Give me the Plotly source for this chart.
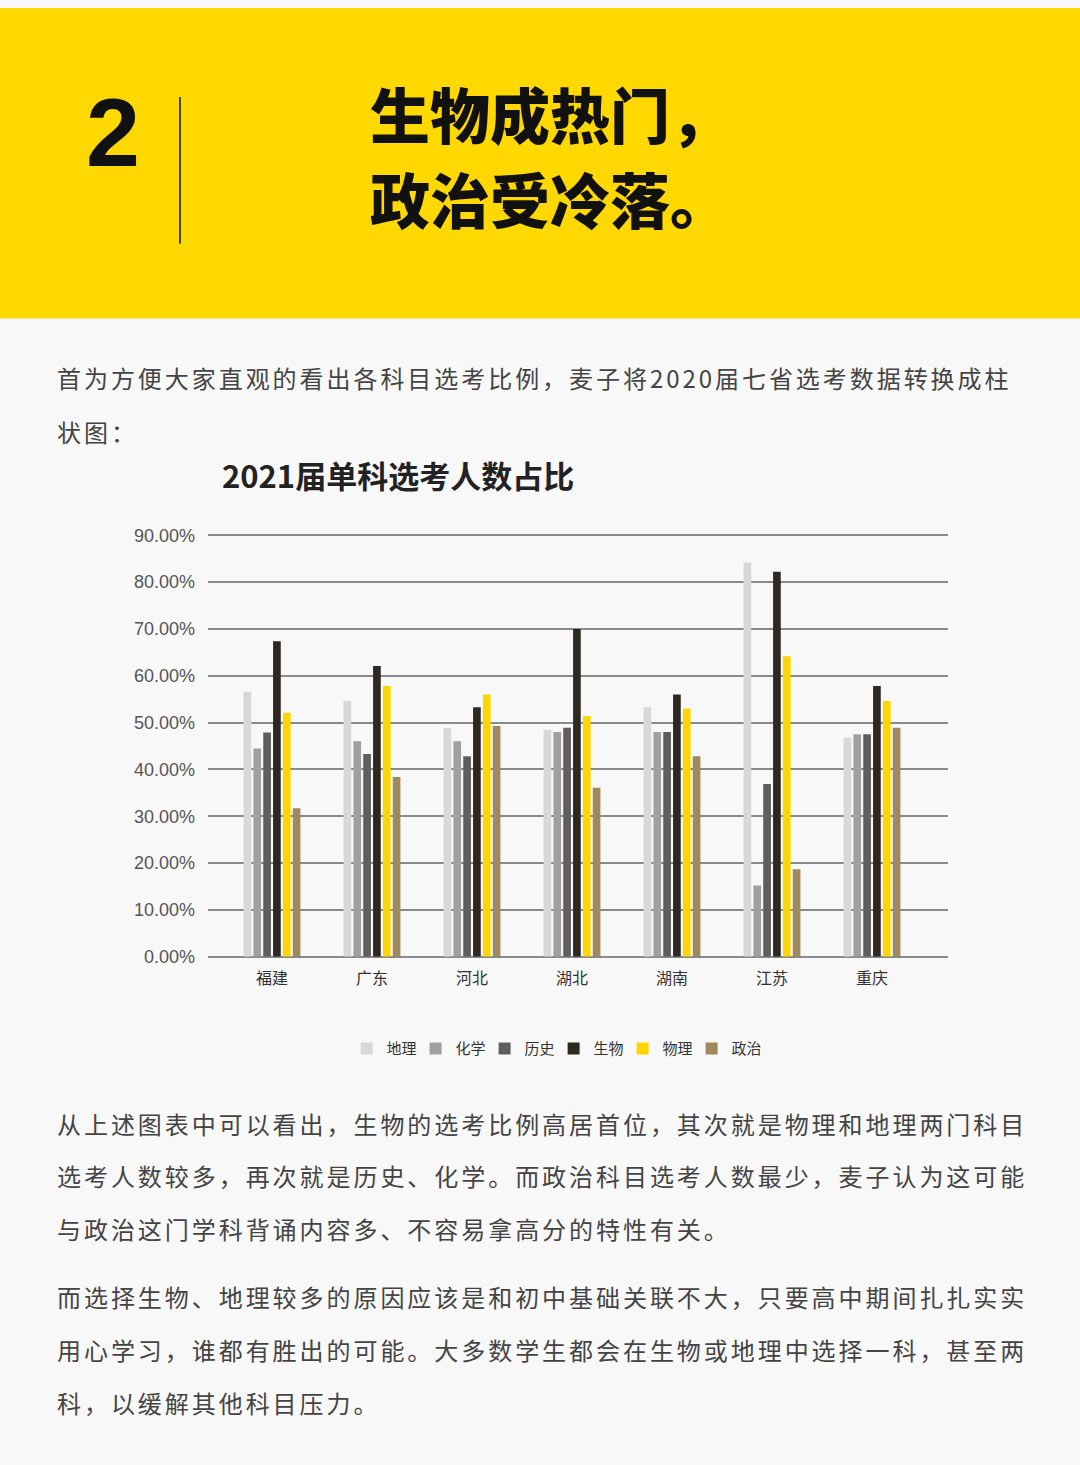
import plotly.graph_objects as go

provinces = ["福建", "广东", "河北", "湖北", "湖南", "江苏", "重庆"]
subjects = ["地理", "化学", "历史", "生物", "物理", "政治"]
colors = ["#D8D8D8", "#A0A0A0", "#5E5E5E", "#2D2920", "#FFD500", "#9E8A5E"]

geo = [0.566, 0.546, 0.489, 0.485, 0.533, 0.842, 0.468]
chem = [0.445, 0.460, 0.460, 0.480, 0.480, 0.152, 0.475]
hist = [0.479, 0.433, 0.428, 0.489, 0.480, 0.369, 0.475]
bio = [0.674, 0.621, 0.533, 0.700, 0.560, 0.822, 0.578]
phys = [0.521, 0.578, 0.560, 0.514, 0.530, 0.642, 0.546]
poli = [0.317, 0.384, 0.493, 0.361, 0.428, 0.187, 0.489]
series = [geo, chem, hist, bio, phys, poli]

title_lines = ["生物成热门，", "政治受冷落。"]
chart_title = "2021届单科选考人数占比"
intro_lines = ["首为方便大家直观的看出各科目选考比例，麦子将2020届七省选考数据转换成柱", "状图："]
para1 = ["从上述图表中可以看出，生物的选考比例高居首位，其次就是物理和地理两门科目",
         "选考人数较多，再次就是历史、化学。而政治科目选考人数最少，麦子认为这可能",
         "与政治这门学科背诵内容多、不容易拿高分的特性有关。"]
para2 = ["而选择生物、地理较多的原因应该是和初中基础关联不大，只要高中期间扎扎实实",
         "用心学习，谁都有胜出的可能。大多数学生都会在生物或地理中选择一科，甚至两",
         "科，以缓解其他科目压力。"]

W, H = 1080, 1465
CJK = "Noto Sans CJK SC"


def py(y):
    # target pixel row (from top) -> paper fraction, compensating the capture's vertical mapping
    yy = (y - 7) / 0.989
    return min(1.0, max(0.0, 1 - yy / H))


fig = go.Figure()
for name, vals, c in zip(subjects, series, colors):
    fig.add_trace(go.Bar(x=provinces, y=vals, name=name, marker=dict(color=c, line=dict(width=0))))

shapes = [
    dict(type="rect", xref="paper", yref="paper", x0=0, x1=1, y0=py(318), y1=1,
         fillcolor="#FFD800", line=dict(width=0), layer="below"),
    dict(type="line", xref="paper", yref="paper", x0=180 / W, x1=180 / W, y0=py(96), y1=py(243),
         line=dict(color="#111111", width=1.5)),
]

ann = []
ann.append(dict(text="<b>2</b>", x=113 / W, y=py(132), xref="paper", yref="paper",
                xanchor="center", yanchor="middle", showarrow=False,
                font=dict(family="Liberation Sans Narrow, Liberation Sans, Arial", size=97, color="#111111")))
for i, t in enumerate(title_lines):
    ann.append(dict(text=t, x=368 / W, y=py(111.5 + 85 * i), xref="paper", yref="paper",
                    xanchor="left", yanchor="middle", showarrow=False,
                    font=dict(family=CJK, size=60, color="#111111", weight=900)))

for i, t in enumerate(intro_lines):
    ann.append(dict(text=t, x=55 / W, y=py(377 + 54 * i), xref="paper", yref="paper",
                    xanchor="left", yanchor="middle", showarrow=False,
                    font=dict(family=CJK, size=24, color="#444444")))
for i, t in enumerate(para1):
    ann.append(dict(text=t, x=55 / W, y=py(1123.5 + 53 * i), xref="paper", yref="paper",
                    xanchor="left", yanchor="middle", showarrow=False,
                    font=dict(family=CJK, size=24, color="#444444")))
for i, t in enumerate(para2):
    ann.append(dict(text=t, x=55 / W, y=py(1297.5 + 53 * i), xref="paper", yref="paper",
                    xanchor="left", yanchor="middle", showarrow=False,
                    font=dict(family=CJK, size=24, color="#444444")))

ann.append(dict(text="<b>" + chart_title + "</b>", x=398 / W, y=py(474), xref="paper", yref="paper",
                xanchor="center", yanchor="middle", showarrow=False,
                font=dict(family=CJK, size=31, color="#222222")))

fig.update_layout(
    width=W, height=H,
    margin=dict(l=0, r=0, t=0, b=0),
    paper_bgcolor="#F8F8F8", plot_bgcolor="rgba(0,0,0,0)",
    barmode="group", bargap=0.41, bargroupgap=0.22,
    shapes=shapes, annotations=ann,
    showlegend=True,
    legend=dict(orientation="h", x=0.5126, xanchor="center", y=py(1049), yanchor="middle",
                font=dict(family=CJK, size=15, color="#333333"), bgcolor="rgba(0,0,0,0)",
                itemwidth=30, traceorder="normal", entrywidth=24, entrywidthmode="pixels"),
    xaxis=dict(domain=[208 / W, 948 / W], range=[-0.64, 6.76], showgrid=False, showline=False,
               zeroline=False, ticks="", tickfont=dict(family=CJK, size=16, color="#333333"),
               ticklabelstandoff=10, fixedrange=True),
    yaxis=dict(domain=[py(957), py(533.6)], range=[0, 0.903], dtick=0.1, tickformat=".2%",
               showgrid=True, gridcolor="#8A8A8A", gridwidth=1.5,
               zeroline=True, zerolinecolor="#8A8A8A", zerolinewidth=1.5, showline=False,
               ticks="", tickfont=dict(family="Liberation Sans, Arial", size=18, color="#555555"),
               ticklabelstandoff=12, fixedrange=True),
    font=dict(family=CJK),
)

post = """
var st = document.createElement('style');
st.textContent = 'html,body{margin:0 !important;padding:0 !important;overflow:hidden !important;background:#F8F8F8;}';
document.head.appendChild(st);
window.scrollTo(0, 0);
document.querySelectorAll('.annotation-text').forEach(function(t){
  var fs = parseFloat(t.style.fontSize);
  var ls = null;
  if (fs > 23 && fs < 25) { ls = '2.95px'; }
  if (ls && !t.getAttribute('data-ls')) {
    var b0 = t.getBBox().x;
    t.style.letterSpacing = ls;
    var b1 = t.getBBox().x;
    var x0 = parseFloat(t.getAttribute('x') || '0');
    t.setAttribute('x', x0 + (b0 - b1));
    t.setAttribute('data-ls', '1');
  }
});
"""

fig.write_html("out.html", post_script=post, config={"displayModeBar": False})
